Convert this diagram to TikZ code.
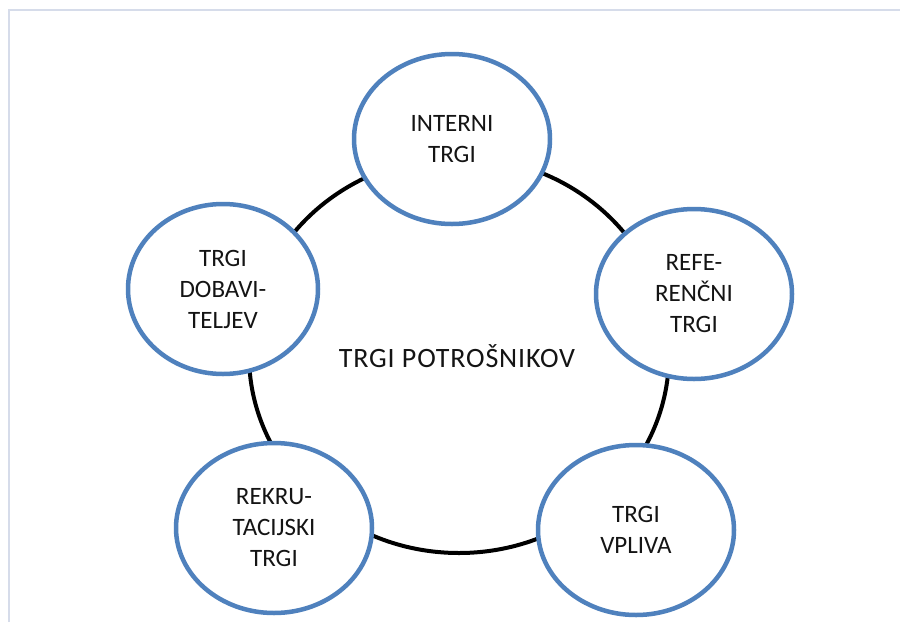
\documentclass[tikz,border=0pt]{standalone}
\usepackage{fontspec}
\setmainfont{Carlito}
\usetikzlibrary{shapes.geometric}
\definecolor{ringblue}{RGB}{79,129,189}
\definecolor{frameblue}{RGB}{214,220,234}
\definecolor{txt}{RGB}{20,20,20}
\tikzset{
  market/.style={ellipse, draw=ringblue, line width=4.5pt, fill=white,
    minimum width=196pt, minimum height=170pt, inner sep=0pt,
    align=center, text=txt, font=\fontsize{25}{31}\selectfont},
  centre/.style={text=txt, inner sep=0pt,
    font=\fontsize{28}{31}\selectfont\addfontfeature{LetterSpace=3}},
  ring/.style={draw=black, line width=4pt},
  frame/.style={draw=frameblue, line width=2pt}
}
\begin{document}
\begin{tikzpicture}[x=1pt,y=-1pt]
\useasboundingbox (0,0) rectangle (900,622);
\fill[white] (0,0) rectangle (900,622);
\coordinate (ftl) at (9,10);
\coordinate (ftr) at (900,10);
\coordinate (fbl) at (9,622);
\draw[frame] (fbl) -- (ftl) -- (ftr);
\node[centre] (c) at (457,356) {TRGI POTROŠNIKOV};
\draw[ring] (459,355) ellipse [x radius=210pt, y radius=198pt];
\node[market] (int) at (452,139) {INTERNI\\TRGI};
\node[market] (ref) at (694,294) {REFE-\\RENČNI\\TRGI};
\node[market] (vpl) at (636,530) {TRGI\\VPLIVA};
\node[market] (rek) at (274,528) {REKRU-\\TACIJSKI\\TRGI};
\node[market, minimum width=190pt] (dob) at (223,289) {TRGI\\DOBAVI-\\TELJEV};
\end{tikzpicture}
\end{document}
